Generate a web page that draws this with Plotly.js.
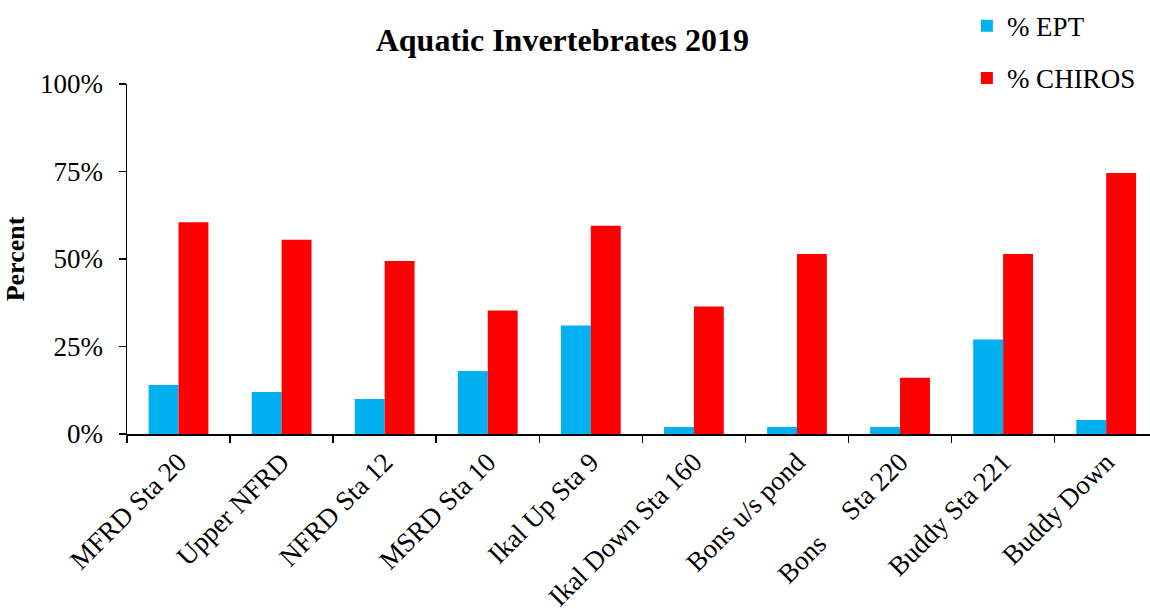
<!DOCTYPE html>
<html>
<head>
<meta charset="utf-8">
<script src="https://cdn.plot.ly/plotly-3.0.1.min.js"></script>
<style>html,body{margin:0;padding:0;background:#fff;overflow:hidden}</style>
</head>
<body>
<div id="chart" style="width:1150px;height:609px"></div>
<script>
const categories = ["MFRD Sta 20", "Upper NFRD", "NFRD Sta 12", "MSRD Sta 10", "Ikal Up Sta 9",
  "Ikal Down Sta 160", "Bons u/s pond", "Bons\u00a0\u00a0\u00a0\u00a0\u00a0Sta 220", "Buddy Sta 221", "Buddy Down"];
const eptValues = [0.14, 0.12, 0.10, 0.18, 0.31, 0.02, 0.02, 0.02, 0.27, 0.04];
const chirosValues = [0.605, 0.555, 0.494, 0.353, 0.595, 0.364, 0.514, 0.161, 0.514, 0.746];
const yTickValues = [0, 0.25, 0.5, 0.75, 1];
const yTickLabels = ["0%", "25%", "50%", "75%", "100%"];

const FONT = "'Liberation Serif', 'Times New Roman', serif";

const traces = [
  {type: "bar", name: "% EPT", x: categories, y: eptValues, marker: {color: "#00B0F0"}, legendgroup: "a"},
  {type: "bar", name: "% CHIROS", x: categories, y: chirosValues, marker: {color: "#FF0000"}, legendgroup: "b"}
];

const layout = {
  width: 1150, height: 609,
  margin: {l: 127, r: 0, t: 84, b: 175},
  paper_bgcolor: "#fff", plot_bgcolor: "#fff",
  font: {family: FONT, color: "#000", size: 27},
  title: {text: "<b>Aquatic Invertebrates 2019</b>", font: {family: FONT, size: 32, color: "#000"},
          x: 0.489, xanchor: "center", y: 0.935, yanchor: "middle"},
  barmode: "group", bargap: 0.42, bargroupgap: 0,
  showlegend: true,
  legend: {x: 0.821, xanchor: "left", y: 1.235, yanchor: "top", tracegroupgap: 14,
           font: {family: FONT, size: 27, color: "#000"}, bgcolor: "rgba(0,0,0,0)"},
  xaxis: {type: "category", range: [-0.5, 9.425], showline: true, linecolor: "#000", linewidth: 1.5,
          ticks: "outside", tickson: "boundaries", ticklen: 7, tickwidth: 1.5, tickcolor: "#000",
          tickangle: -45, tickfont: {family: FONT, size: 27, color: "#000"}, showgrid: false, zeroline: false,
          fixedrange: true},
  yaxis: {range: [0, 1], tickvals: yTickValues, ticktext: yTickLabels, showline: true, linecolor: "#000",
          linewidth: 1.5, ticks: "outside", ticklen: 7, tickwidth: 1.5, tickcolor: "#000",
          ticklabelstandoff: 10,
          tickfont: {family: FONT, size: 27, color: "#000"}, showgrid: false, zeroline: false,
          title: {text: "<b>Percent</b>", font: {family: FONT, size: 26, color: "#000"}, standoff: 8},
          fixedrange: true}
};

Plotly.newPlot("chart", traces, layout, {displayModeBar: false, staticPlot: true});
</script>
</body>
</html>
